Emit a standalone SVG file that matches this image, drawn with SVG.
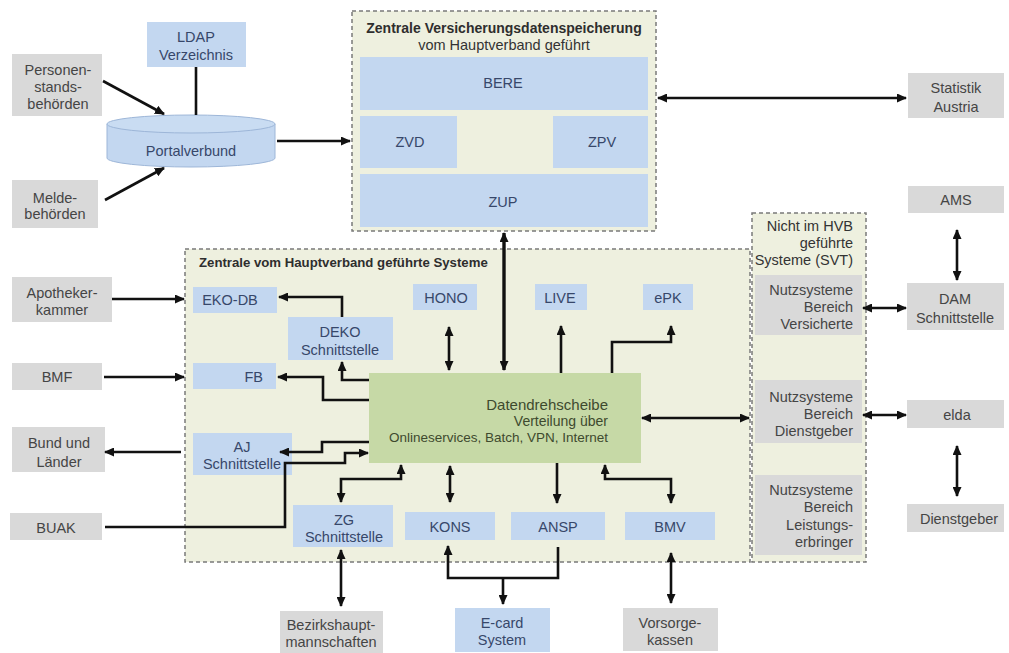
<svg xmlns="http://www.w3.org/2000/svg" width="1009" height="653" viewBox="0 0 1009 653">
<defs>
<style>
text{font-family:"Liberation Sans",Arial,sans-serif;font-size:14.5px;text-anchor:middle}
.g{fill:#d9d9d9}
.b{fill:#c3d7f0}
.tg{fill:#454545}
.tb{fill:#37476a}
.cont{fill:#eef0df;stroke:#7a7a7a;stroke-width:1.5;stroke-dasharray:4 3}
.ttl{font-weight:bold;fill:#2e2e2e;font-size:14px}
.r{text-anchor:end}
.st{text-anchor:start}
.c{fill:none;stroke:#111;stroke-width:2.6}
.e{marker-end:url(#ah)}
.s{marker-start:url(#ah)}
</style>
<marker id="ah" markerUnits="userSpaceOnUse" markerWidth="10" markerHeight="9" refX="9" refY="4.5" orient="auto-start-reverse">
<path d="M0,0 L10,4.5 L0,9 z" fill="#111"/>
</marker>
</defs>
<rect width="1009" height="653" fill="#ffffff"/>

<!-- containers -->
<g id="zvs">
<rect class="cont" x="352" y="11" width="304" height="220"/>
<text class="ttl" x="504" y="33">Zentrale Versicherungsdatenspeicherung</text>
<text x="504" y="50" class="tg" style="fill:#333">vom Hauptverband geführt</text>
</g>
<g id="hvb">
<rect class="cont" x="185" y="249" width="565" height="313"/>
<text class="ttl st" x="199" y="267" style="font-size:13.2px">Zentrale vom Hauptverband geführte Systeme</text>
</g>
<g id="svt">
<rect class="cont" x="752" y="213" width="114" height="349"/>
<text class="r" x="853" y="231" style="fill:#333">Nicht im HVB</text>
<text class="r" x="853" y="248" style="fill:#333">geführte</text>
<text class="r" x="853" y="265" style="fill:#333">Systeme (SVT)</text>
</g>

<!-- left top -->
<g id="personen"><rect class="g" x="12" y="54" width="90" height="62"/>
<text class="tg" x="58" y="75">Personen-</text><text class="tg" x="58" y="92">stands-</text><text class="tg" x="58" y="109">behörden</text></g>
<g id="ldap"><rect class="b" x="147" y="22" width="99" height="45"/>
<text class="tb" x="196" y="42">LDAP</text><text class="tb" x="196" y="60">Verzeichnis</text></g>
<g id="portal">
<path d="M107,124 V158 A84,9 0 0 0 275,158 V124" fill="#c3d7f0" stroke="#9db6d8" stroke-width="1"/>
<ellipse cx="191" cy="124" rx="84" ry="9" fill="#c9dcf2" stroke="#9db6d8" stroke-width="1"/>
<text class="tb" x="191" y="156">Portalverbund</text></g>
<g id="melde"><rect class="g" x="12" y="180" width="86" height="48"/>
<text class="tg" x="55" y="203">Melde-</text><text class="tg" x="55" y="219">behörden</text></g>

<!-- ZVS inner -->
<g id="bere"><rect class="b" x="360" y="57" width="288" height="53"/><text class="tb" x="503" y="88">BERE</text></g>
<g id="zvd"><rect class="b" x="360" y="116" width="97" height="52"/><text class="tb" x="410" y="147">ZVD</text></g>
<g id="zpv"><rect class="b" x="553" y="116" width="95" height="52"/><text class="tb" x="602" y="147">ZPV</text></g>
<g id="zup"><rect class="b" x="360" y="174" width="288" height="53"/><text class="tb" x="503" y="207">ZUP</text></g>

<!-- right -->
<g id="statistik"><rect class="g" x="908" y="73" width="96" height="45"/>
<text class="tg" x="956" y="93">Statistik</text><text class="tg" x="956" y="112">Austria</text></g>
<g id="ams"><rect class="g" x="908" y="186" width="96" height="27"/><text class="tg" x="956" y="205">AMS</text></g>
<g id="dam"><rect class="g" x="907" y="283" width="97" height="47"/>
<text class="tg" x="955" y="304">DAM</text><text class="tg" x="955" y="323">Schnittstelle</text></g>
<g id="elda"><rect class="g" x="907" y="400" width="97" height="28"/><text class="tg" x="957" y="420">elda</text></g>
<g id="dienstgeber"><rect class="g" x="907" y="504" width="97" height="28"/><text class="tg" x="959" y="524">Dienstgeber</text></g>

<g id="nv"><rect class="g" x="755" y="275" width="107" height="60"/>
<text class="tg r" x="853" y="295">Nutzsysteme</text><text class="tg r" x="853" y="312">Bereich</text><text class="tg r" x="853" y="329">Versicherte</text></g>
<g id="nd"><rect class="g" x="755" y="380" width="107" height="63"/>
<text class="tg r" x="853" y="402">Nutzsysteme</text><text class="tg r" x="853" y="419">Bereich</text><text class="tg r" x="853" y="436">Dienstgeber</text></g>
<g id="nl"><rect class="g" x="755" y="475" width="107" height="80"/>
<text class="tg r" x="853" y="495">Nutzsysteme</text><text class="tg r" x="853" y="512">Bereich</text><text class="tg r" x="853" y="530">Leistungs-</text><text class="tg r" x="853" y="547">erbringer</text></g>

<!-- left middle -->
<g id="apotheker"><rect class="g" x="12" y="277" width="100" height="45"/>
<text class="tg" x="62" y="298">Apotheker-</text><text class="tg" x="62" y="315">kammer</text></g>
<g id="bmf"><rect class="g" x="12" y="363" width="90" height="27"/><text class="tg" x="57" y="382">BMF</text></g>
<g id="bund"><rect class="g" x="12" y="427" width="93" height="45"/>
<text class="tg" x="59" y="448">Bund und</text><text class="tg" x="59" y="467">Länder</text></g>
<g id="buak"><rect class="g" x="10" y="513" width="92" height="27"/><text class="tg" x="56" y="533">BUAK</text></g>

<!-- HVB inner -->
<g id="ekodb"><rect class="b" x="193" y="287" width="84" height="26"/><text class="tb" x="230" y="305">EKO-DB</text></g>
<g id="deko"><rect class="b" x="288" y="317" width="105" height="43"/>
<text class="tb" x="340" y="337">DEKO</text><text class="tb" x="340" y="355">Schnittstelle</text></g>
<g id="fb"><rect class="b" x="193" y="363" width="83" height="26"/><text class="tb r" x="263" y="382">FB</text></g>
<g id="aj"><rect class="b" x="193" y="433" width="99" height="42"/>
<text class="tb" x="242" y="452">AJ</text><text class="tb" x="242" y="469">Schnittstelle</text></g>
<g id="hono"><rect class="b" x="413" y="284" width="64" height="26"/><text class="tb" x="446" y="303">HONO</text></g>
<g id="live"><rect class="b" x="535" y="284" width="52" height="26"/><text class="tb" x="560" y="303">LIVE</text></g>
<g id="epk"><rect class="b" x="643" y="284" width="50" height="26"/><text class="tb" x="668" y="303">ePK</text></g>
<g id="dds"><rect x="369" y="373" width="272" height="90" fill="#c6d9a6"/>
<text class="r" x="608" y="410" style="fill:#3e4a2e;font-size:15px">Datendrehscheibe</text>
<text class="r" x="608" y="426" style="fill:#3e4a2e;font-size:14px">Verteilung über</text>
<text class="r" x="608" y="442" style="fill:#3e4a2e;font-size:13.5px">Onlineservices, Batch, VPN, Internet</text></g>
<g id="zg"><rect class="b" x="293" y="505" width="100" height="42"/>
<text class="tb" x="344" y="525">ZG</text><text class="tb" x="344" y="542">Schnittstelle</text></g>
<g id="kons"><rect class="b" x="405" y="512" width="90" height="28"/><text class="tb" x="450" y="532">KONS</text></g>
<g id="ansp"><rect class="b" x="511" y="512" width="94" height="28"/><text class="tb" x="558" y="532">ANSP</text></g>
<g id="bmv"><rect class="b" x="625" y="512" width="90" height="28"/><text class="tb" x="670" y="532">BMV</text></g>

<!-- bottom -->
<g id="bezirk"><rect class="g" x="280" y="611" width="103" height="42"/>
<text class="tg" x="331" y="630">Bezirkshaupt-</text><text class="tg" x="331" y="647">mannschaften</text></g>
<g id="ecard"><rect class="b" x="455" y="608" width="95" height="44"/>
<text class="tb" x="502" y="628">E-card</text><text class="tb" x="502" y="645">System</text></g>
<g id="vorsorge"><rect class="g" x="623" y="608" width="95" height="43"/>
<text class="tg" x="670" y="628">Vorsorge-</text><text class="tg" x="670" y="645">kassen</text></g>

<!-- connectors -->
<g id="connectors">
<path class="c e" d="M103,81 L164,114"/>
<path class="c e" d="M105,200 L164,168"/>
<path class="c" d="M196,67 V115"/>
<path class="c e" d="M277,141 H350"/>
<path class="c e s" d="M658,98 H906"/>
<path class="c e s" d="M957,230 V280"/>
<path class="c e s" d="M863,308 H906"/>
<path class="c e s" d="M863,415 H906"/>
<path class="c e s" d="M957,446 V496"/>
<path class="c e" d="M112,299 H184"/>
<path class="c e" d="M104,377 H184"/>
<path class="c e" d="M181,452 H105"/>
<path class="c e" d="M105,527 H285 V463 H345 V453 H368"/>
<path class="c e" d="M369,442 H322 V452 H280"/>
<path class="c e" d="M369,400 H323 V377 H278"/>
<path class="c e" d="M369,380 H342 V362"/>
<path class="c e" d="M342,317 V297 H279"/>
<path class="c e s" d="M401,465 V479 H341 V502"/>
<path class="c e s" d="M341,550 V606"/>
<path class="c e s" d="M449,327 V370"/>
<path class="c e s" d="M504,233 V370" style="stroke-width:3.4"/>
<path class="c e" d="M561,373 V326"/>
<path class="c e" d="M612,373 V342 H671 V326"/>
<path class="c e s" d="M642,418 H749"/>
<path class="c e s" d="M450,466 V502"/>
<path class="c e" d="M557,463 V503"/>
<path class="c e s" d="M605,465 V479 H671 V503"/>
<path class="c s" d="M448,546 V578 H558 V547"/>
<path class="c e" d="M503,578 V604"/>
<path class="c e s" d="M671,553 V603"/>
</g>
</svg>
